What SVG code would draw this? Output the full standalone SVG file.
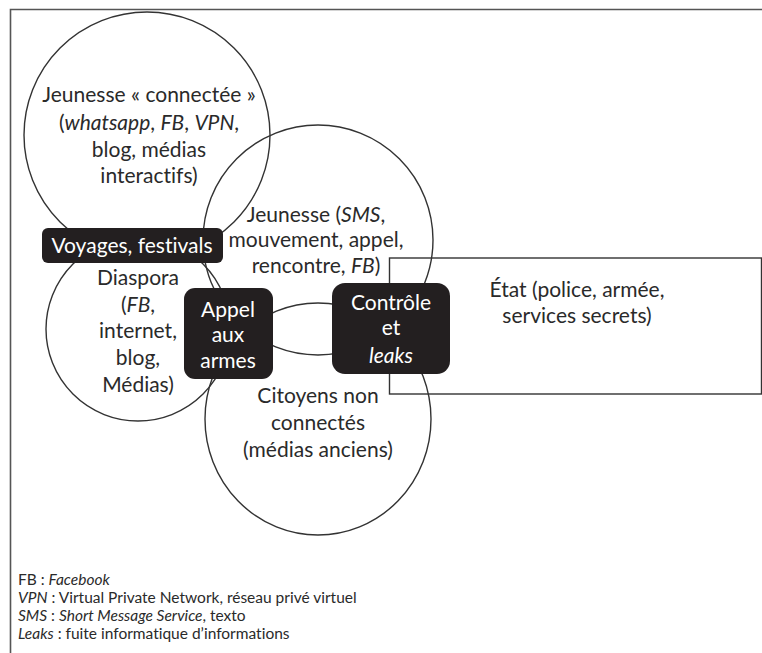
<svg xmlns="http://www.w3.org/2000/svg" width="762" height="653" viewBox="0 0 762 653">
<style>
.ring{fill:none;stroke:#333;stroke-width:1.4}
.box{fill:#231f20;stroke:none}
.t{font-family:Lato,"Liberation Sans",sans-serif;font-size:21px;fill:#2a2a2a;text-anchor:middle;font-variant-ligatures:none;font-feature-settings:"liga" 0,"dlig" 0}
.w{fill:#fff}
.lg{font-family:Lato,"Liberation Sans",sans-serif;font-size:15.5px;fill:#2a2a2a;font-variant-ligatures:none;font-feature-settings:"liga" 0,"dlig" 0}
.i{font-style:italic}
</style>
<rect x="0" y="0" width="762" height="653" fill="#fff"/>
<g id="frame"><path d="M10.5 653 V9.5 H762" fill="none" stroke="#555" stroke-width="1.6"/></g>
<g id="connectors">
<circle class="ring" cx="147" cy="135" r="123"/>
<circle class="ring" cx="318" cy="240" r="115"/>
<circle class="ring" cx="138" cy="329" r="92"/>
<ellipse class="ring" cx="318" cy="419" rx="113" ry="116"/>
<rect class="ring" x="389.5" y="258" width="372" height="136"/>
</g>
<g id="jeunesse-connectee">
<text class="t" x="149" y="102">Jeunesse « connectée »</text>
<text class="t" x="149" y="130">(<tspan class="i">whatsapp</tspan>, <tspan class="i">FB</tspan>, <tspan class="i">VPN</tspan>,</text>
<text class="t" x="149" y="157">blog, médias</text>
<text class="t" x="149" y="183">interactifs)</text>
</g>
<g id="jeunesse-sms">
<text class="t" x="316" y="222">Jeunesse (<tspan class="i">SMS</tspan>,</text>
<text class="t" x="316" y="247">mouvement, appel,</text>
<text class="t" x="316" y="273">rencontre, <tspan class="i">FB</tspan>)</text>
</g>
<g id="diaspora">
<text class="t" x="138" y="285">Diaspora</text>
<text class="t" x="138" y="312">(<tspan class="i">FB</tspan>,</text>
<text class="t" x="138" y="338">internet,</text>
<text class="t" x="138" y="365">blog,</text>
<text class="t" x="138" y="392">Médias)</text>
</g>
<g id="citoyens">
<text class="t" x="318" y="403">Citoyens non</text>
<text class="t" x="318" y="430">connectés</text>
<text class="t" x="318" y="457">(médias anciens)</text>
</g>
<g id="etat">
<text class="t" x="577" y="297">État (police, armée,</text>
<text class="t" x="577" y="323">services secrets)</text>
</g>
<g id="voyages">
<rect class="box" x="42" y="228" width="181" height="35" rx="6"/>
<text class="t w" x="132" y="253">Voyages, festivals</text>
</g>
<g id="appel">
<rect class="box" x="184" y="288" width="89" height="91" rx="11"/>
<text class="t w" x="228" y="317">Appel</text>
<text class="t w" x="228" y="342">aux</text>
<text class="t w" x="228" y="368">armes</text>
</g>
<g id="controle">
<rect class="box" x="332" y="283" width="118" height="91" rx="13"/>
<text class="t w" x="391" y="310">Contrôle</text>
<text class="t w" x="391" y="335">et</text>
<text class="t w i" x="391" y="363">leaks</text>
</g>
<g id="legend">
<text class="lg" x="18" y="585">FB : <tspan class="i">Facebook</tspan></text>
<text class="lg" x="18" y="603"><tspan class="i">VPN</tspan> : Virtual Private Network, réseau privé virtuel</text>
<text class="lg" x="18" y="621"><tspan class="i">SMS</tspan> : <tspan class="i">Short Message Service</tspan>, texto</text>
<text class="lg" x="18" y="639"><tspan class="i">Leaks</tspan> : fuite informatique d’informations</text>
</g>
</svg>
